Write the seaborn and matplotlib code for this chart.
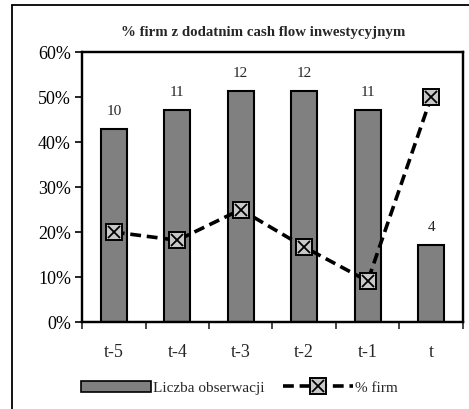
import matplotlib
matplotlib.use("Agg")
import matplotlib.pyplot as plt
from matplotlib.lines import Line2D
from matplotlib.patches import Patch
from matplotlib.legend_handler import HandlerTuple
from matplotlib.ticker import FuncFormatter, FixedLocator
import seaborn as sns
import pandas as pd

categories = ["t-5", "t-4", "t-3", "t-2", "t-1", "t"]
obs_counts = [10, 11, 12, 12, 11, 4]
pct_firms = [20.0, 18.18, 25.0, 16.67, 9.09, 50.0]
yticks = [0, 10, 20, 30, 40, 50, 60]

df = pd.DataFrame({"okres": categories, "liczba": obs_counts, "pct": pct_firms})

sns.set_theme(style="white")
plt.rcParams["font.family"] = ["Liberation Serif", "DejaVu Serif"]

fig = plt.figure(figsize=(4.69, 4.09), dpi=100)
ax = fig.add_axes([0.175, 0.2127, 0.812, 0.6596])
ax2 = ax.twinx()

DASH = (0, (3.0, 1.6))

# bars on hidden secondary axis
sns.barplot(data=df, x="okres", y="liczba", ax=ax2, color="#808080",
            edgecolor="black", linewidth=1.5, width=0.41, saturation=1)
ax2.set_ylim(0, 14)
ax2.set_yticks([])
ax2.set_ylabel("")
ax2.set_xlabel("")
for i, v in enumerate(obs_counts):
    ax2.annotate(str(v), (i, v), xytext=(0, 8), textcoords="offset points",
                 ha="center", va="bottom", fontsize=11)

# line on primary axis, drawn above bars
ax.set_zorder(ax2.get_zorder() + 1)
ax.patch.set_visible(False)
sns.lineplot(data=df, x="okres", y="pct", ax=ax, color="black", lw=2.6,
             linestyle=DASH, sort=False, marker="s", markersize=12,
             markerfacecolor="#c8c8c8", markeredgecolor="black",
             markeredgewidth=1.4)
ax.plot(range(len(categories)), pct_firms, linestyle="none", marker="x",
        markersize=8, markeredgecolor="black", markeredgewidth=1.3)

ax.set_ylim(0, 60)
ax.set_xlim(-0.5, len(categories) - 0.5)
ax2.set_xlim(-0.5, len(categories) - 0.5)
ax.set_yticks(yticks)
ax.yaxis.set_major_formatter(FuncFormatter(lambda v, p: f"{int(v)}%"))
ax.set_xlabel("")
ax.set_ylabel("")
ax.tick_params(axis="y", labelsize=13, length=5, width=1.2, direction="out",
               left=True, pad=3, colors="black")
ax.xaxis.set_minor_locator(FixedLocator([i - 0.5 for i in range(len(categories) + 1)]))
ax.tick_params(axis="x", which="major", length=0, labelsize=13, pad=16)
ax.tick_params(axis="x", which="minor", length=5, width=1.2, direction="out", bottom=True)
ax2.tick_params(axis="x", length=0, labelbottom=False)

for a in (ax, ax2):
    for s in a.spines.values():
        s.set_color("black")
        s.set_linewidth(1.6)

fig.text(0.561, 0.921, "% firm z dodatnim cash flow inwestycyjnym",
         ha="center", va="center", fontsize=10.7, fontweight="bold")

# outer frame (left and top)
fig.add_artist(Line2D([0.0256, 0.0256], [0.0, 0.988], transform=fig.transFigure,
                      color="black", lw=1.3))
fig.add_artist(Line2D([0.0256, 1.0], [0.988, 0.988], transform=fig.transFigure,
                      color="black", lw=1.3))

bar_handle = Patch(facecolor="#808080", edgecolor="black", linewidth=1.2)
line_handle = Line2D([], [], color="black", lw=2.6, linestyle=DASH,
                     marker="s", markersize=12, markerfacecolor="#c8c8c8",
                     markeredgecolor="black", markeredgewidth=1.4)
x_handle = Line2D([], [], linestyle="none", marker="x", markersize=8,
                  markeredgecolor="black", markeredgewidth=1.3)
fig.legend([bar_handle, (line_handle, x_handle)], ["Liczba obserwacji", "% firm"],
           handler_map={tuple: HandlerTuple(ndivide=1, pad=0)},
           loc="center", bbox_to_anchor=(0.51, 0.052), ncol=2, frameon=False,
           fontsize=11, handlelength=4.6, handleheight=0.7, handletextpad=0.1,
           columnspacing=1.2)

fig.savefig("out.png", dpi=100)
